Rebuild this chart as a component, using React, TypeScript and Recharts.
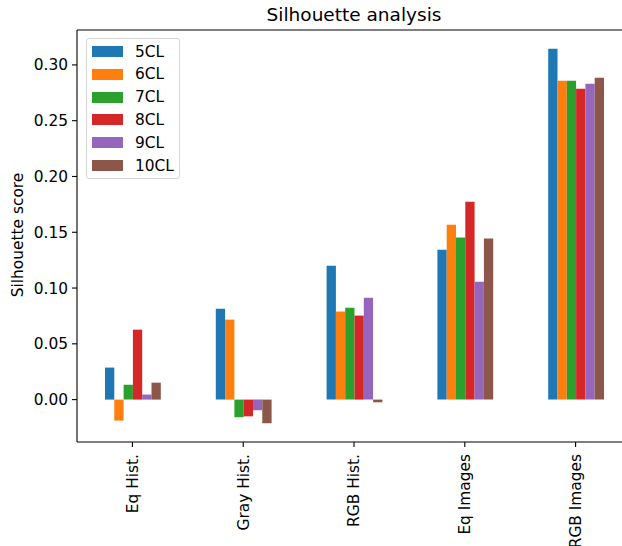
import React from "react";
import {
  BarChart,
  Bar,
  XAxis,
  YAxis,
  Legend,
  ReferenceLine,
} from "recharts";

const categories = ["Eq Hist.", "Gray Hist.", "RGB Hist.", "Eq Images", "RGB Images"];

const cl5 = [0.0287, 0.0815, 0.12, 0.1344, 0.3145];
const cl6 = [-0.0188, 0.0717, 0.0789, 0.1568, 0.2858];
const cl7 = [0.0134, -0.0158, 0.0824, 0.1452, 0.2858];
const cl8 = [0.0627, -0.015, 0.0753, 0.1774, 0.2787];
const cl9 = [0.0045, -0.0096, 0.0914, 0.1057, 0.2832];
const cl10 = [0.0152, -0.0212, -0.0024, 0.1443, 0.2885];

const seriesNames = ["5CL", "6CL", "7CL", "8CL", "9CL", "10CL"];
const seriesValues = [cl5, cl6, cl7, cl8, cl9, cl10];
const colors = ["#1f77b4", "#ff7f0e", "#2ca02c", "#d62728", "#9467bd", "#8c564b"];

const yTicks = [0, 0.05, 0.1, 0.15, 0.2, 0.25, 0.3];

const data = categories.map((name, i) => {
  const row: Record<string, string | number> = { name };
  seriesNames.forEach((s, j) => {
    row[s] = seriesValues[j][i];
  });
  return row;
});

const FONT = "DejaVu Sans, sans-serif";
const FS = 15.4;

const RotatedTick = (props: any) => {
  const { x, y, payload } = props;
  const ty = y + 5;
  return (
    <text
      x={x}
      y={ty}
      transform={`rotate(-90, ${x}, ${ty})`}
      textAnchor="end"
      dy="0.35em"
      fontSize={FS}
      fontFamily={FONT}
      fill="#000"
    >
      {payload.value}
    </text>
  );
};

const LegendBox = () => (
  <div
    style={{
      width: 94,
      height: 141,
      boxSizing: "border-box",
      border: "1px solid #d6d6d6",
      borderRadius: 3,
      background: "rgba(255,255,255,0.8)",
      fontFamily: FONT,
      fontSize: FS,
      color: "#000",
      position: "relative",
    }}
  >
    {seriesNames.map((s, i) => (
      <div
        key={s}
        style={{
          position: "absolute",
          left: 0,
          top: 1 + i * 22.8,
          height: 23,
          display: "flex",
          alignItems: "center",
          whiteSpace: "nowrap",
        }}
      >
        <span
          style={{
            display: "inline-block",
            width: 31,
            height: 11,
            marginLeft: 5,
            marginRight: 12,
            background: colors[i],
          }}
        />
        <span>{s}</span>
      </div>
    ))}
  </div>
);

export default function App() {
  return (
    <div
      style={{
        position: "absolute",
        left: 0,
        top: 0,
        width: 622,
        height: 546,
        overflow: "hidden",
        background: "#fff",
      }}
    >
      <BarChart
        width={640}
        height={546}
        data={data}
        margin={{ top: 30, right: 9, left: 0, bottom: 0 }}
        barGap={0}
        barSize={9.3}
      >
        <text
          x={354}
          y={21}
          textAnchor="middle"
          fontSize={18.5}
          fontFamily={FONT}
          fill="#000"
        >
          Silhouette analysis
        </text>
        <text
          x={18}
          y={235}
          transform="rotate(-90, 18, 235)"
          textAnchor="middle"
          dy="0.35em"
          fontSize={FS}
          fontFamily={FONT}
          fill="#000"
        >
          Silhouette score
        </text>
        <XAxis
          dataKey="name"
          height={104}
          interval={0}
          tick={<RotatedTick />}
          tickSize={5}
          axisLine={{ stroke: "#000", strokeWidth: 1.1 }}
          tickLine={{ stroke: "#000", strokeWidth: 1.1 }}
        />
        <YAxis
          width={77}
          domain={[-0.038, 0.3313]}
          ticks={yTicks}
          allowDataOverflow
          tickFormatter={(v: number) => v.toFixed(2)}
          tickSize={5}
          tickMargin={4}
          tick={{ fill: "#000", fontSize: FS, fontFamily: FONT }}
          axisLine={{ stroke: "#000", strokeWidth: 1.1 }}
          tickLine={{ stroke: "#000", strokeWidth: 1.1 }}
        />
        <ReferenceLine y={0.3313} stroke="#000" strokeWidth={1.1} />
        <Legend
          layout="vertical"
          align="center"
          verticalAlign="middle"
          content={<LegendBox />}
          wrapperStyle={{ left: 86, top: 38, width: 94, height: 141 }}
        />
        {seriesNames.map((s, i) => (
          <Bar key={s} dataKey={s} fill={colors[i]} isAnimationActive={false} />
        ))}
      </BarChart>
    </div>
  );
}
